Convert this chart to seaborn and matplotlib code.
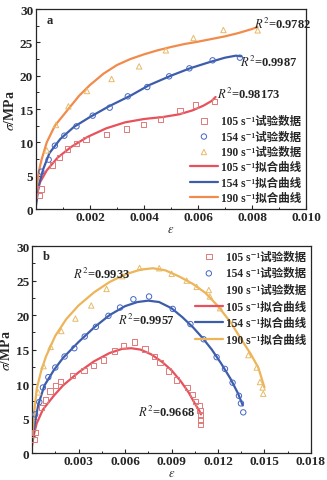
import matplotlib
matplotlib.use("Agg")
import matplotlib.pyplot as plt
import seaborn as sns
import pandas as pd
import numpy as np
from matplotlib.ticker import MultipleLocator, FixedLocator

# ---------------- experimental data (shared by both panels) ----------------
eps_105 = [0.00012, 0.00019, 0.00062, 0.00086, 0.00117, 0.00151, 0.00185, 0.00262, 0.00336,
           0.00398, 0.00462, 0.00533, 0.00591, 0.00662, 0.00729, 0.00789, 0.00826, 0.0088,
           0.00933, 0.01004, 0.01034, 0.01056, 0.01077, 0.01085, 0.01087, 0.01087, 0.01087]
sig_105 = [2.0, 3.0, 6.6, 7.7, 9.0, 9.8, 10.4, 11.2, 12.0, 12.7, 13.5, 14.8, 15.6, 16.1,
           15.1, 14.0, 13.1, 11.9, 10.6, 9.5, 8.45, 7.5, 6.85, 6.2, 5.5, 4.8, 4.1]
eps_154 = [0.0002, 0.00047, 0.0007, 0.00105, 0.0015, 0.0021, 0.00273, 0.0034, 0.00412, 0.00493,
           0.00568, 0.00654, 0.00755, 0.00908, 0.01022, 0.01107, 0.01191, 0.01245, 0.01294,
           0.01335, 0.01348, 0.01363]
sig_154 = [5.6, 7.4, 9.5, 11.0, 12.4, 14.0, 15.2, 16.9, 18.3, 19.9, 21.1, 22.3, 22.7, 20.9,
           18.7, 16.5, 13.9, 12.2, 10.2, 8.3, 7.2, 5.9]
eps_190 = [0.0004, 0.00074, 0.0012, 0.00189, 0.0028, 0.00382, 0.00481, 0.00583, 0.00694,
           0.00821, 0.00901, 0.00998, 0.01062, 0.01148, 0.01213, 0.01396, 0.0145, 0.01471,
           0.01488, 0.01492]
sig_190 = [8.8, 12.6, 15.4, 17.7, 19.5, 21.4, 23.8, 25.65, 26.85, 26.8, 26.0, 25.0, 24.1,
           22.7, 21.0, 14.2, 12.4, 10.3, 9.5, 8.6]
# number of points (pre-peak) shown in panel a
n_a_105, n_a_154, n_a_190 = 14, 13, 10

# ---------------- fitted curves, panel a ----------------
fa_eps_105 = [0, 0.00005, 0.00015, 0.0004, 0.0008, 0.0013, 0.0019, 0.0026, 0.0033, 0.004,
              0.0047, 0.0053, 0.0058, 0.0062, 0.0065, 0.00665]
fa_sig_105 = [1.0, 2.5, 4.0, 5.8, 7.7, 9.3, 10.8, 12.1, 13.0, 13.5, 13.8, 14.2, 14.8, 15.5, 16.2, 16.8]
fa_eps_154 = [0, 0.0001, 0.00027, 0.0005, 0.0009, 0.0014, 0.002, 0.0027, 0.0035, 0.0042,
              0.005, 0.0057, 0.0064, 0.007, 0.0074, 0.0076]
fa_sig_154 = [0.5, 3.5, 6.0, 8.4, 10.5, 12.3, 13.8, 15.4, 17.0, 18.6, 20.0, 21.1, 22.0, 22.7, 23.0, 22.9]
fa_eps_190 = [0, 0.0001, 0.0002, 0.0004, 0.0007, 0.001, 0.0013, 0.0016, 0.002, 0.0025, 0.003,
              0.0035, 0.004, 0.0045, 0.005, 0.0055, 0.006, 0.0065, 0.007, 0.0075, 0.008, 0.0082]
fa_sig_190 = [2.3, 5.5, 7.3, 10.0, 12.5, 14.0, 15.5, 17.0, 18.6, 20.3, 21.6, 22.5, 23.2, 23.8,
              24.3, 24.75, 25.1, 25.5, 25.9, 26.4, 27.0, 27.3]

# ---------------- fitted curves, panel b ----------------
fb_eps_105 = [0, 0.0001, 0.0003, 0.0007, 0.0014, 0.002, 0.003, 0.004, 0.005, 0.0058, 0.0064,
              0.007, 0.0077, 0.0084, 0.009, 0.0096, 0.0101, 0.0105, 0.0108, 0.0109]
fb_sig_105 = [1.0, 2.5, 4.3, 6.3, 8.3, 9.8, 11.7, 13.3, 14.5, 15.1, 15.2, 15.0, 14.3, 13.2,
              12.0, 10.4, 8.8, 7.2, 6.1, 5.6]
fb_eps_154 = [0, 0.0001, 0.0002, 0.0004, 0.0008, 0.0014, 0.002, 0.003, 0.004, 0.005, 0.006,
              0.0068, 0.0075, 0.0082, 0.009, 0.0097, 0.0104, 0.011, 0.0116, 0.0122, 0.0128,
              0.0133, 0.0136]
fb_sig_154 = [1.5, 3.2, 4.5, 7.0, 9.8, 12.0, 13.8, 16.1, 18.2, 20.0, 21.3, 21.9, 22.1, 21.9,
              21.0, 19.7, 18.2, 16.7, 15.0, 13.0, 10.8, 8.6, 6.9]
fb_eps_190 = [0, 0.0001, 0.0003, 0.0006, 0.0009, 0.0015, 0.0022, 0.003, 0.004, 0.005, 0.006,
              0.007, 0.0078, 0.0086, 0.0095, 0.0104, 0.0112, 0.012, 0.0128, 0.0135, 0.0141,
              0.0146, 0.015]
fb_sig_190 = [1.5, 5.0, 9.3, 12.0, 14.0, 17.0, 19.4, 21.4, 23.3, 24.8, 25.9, 26.6, 26.8, 26.5,
              25.6, 24.5, 23.2, 21.3, 19.0, 16.5, 14.4, 12.4, 9.5]

rates = ["105", "154", "190"]
r2_a = ["0.98173", "0.9987", "0.9782"]
r2_b = ["0.9668", "0.9957", "0.9933"]
yticks = [0, 5, 10, 15, 20, 25, 30]
xticks_a = [0.002, 0.004, 0.006, 0.008, 0.010]
xticks_b = [0.003, 0.006, 0.009, 0.012, 0.015, 0.018]

# ---------------- style ----------------
sns.set_style("ticks")
plt.rcParams["font.family"] = ["Liberation Serif", "DejaVu Serif", "Noto Sans CJK SC"]
plt.rcParams["mathtext.fontset"] = "stix"
plt.rcParams["axes.linewidth"] = 0.9

c_red_line, c_red_mk = "#E8515B", "#E07A7A"
c_blue_line, c_blue_mk = "#3D5DAA", "#4466C2"
c_or_line_a, c_gold_line_b, c_tri = "#F28A4C", "#EDB458", "#E8BA68"

fig = plt.figure(figsize=(3.27, 4.81), dpi=100)
ax1 = fig.add_axes([0.110, 0.5634, 0.826, 0.4158])
ax2 = fig.add_axes([0.098, 0.0561, 0.853, 0.4300])

lab_data = "{} s⁻¹试验数据"
lab_fit = "{} s⁻¹拟合曲线"


def draw(ax, exp, fits, line_colors):
    mk_colors = [c_red_mk, c_blue_mk, c_tri]
    markers = ["s", "o", "^"]
    for (e, s), rate, col, m in zip(exp, rates, mk_colors, markers):
        df = pd.DataFrame({"eps": e, "sig": s})
        sns.scatterplot(data=df, x="eps", y="sig", ax=ax, marker=m, s=15,
                        facecolor="none", edgecolor=col, linewidth=0.7,
                        label=lab_data.format(rate), zorder=3)
    for (e, s), rate, col in zip(fits, rates, line_colors):
        df = pd.DataFrame({"eps": e, "sig": s})
        sns.lineplot(data=df, x="eps", y="sig", ax=ax, sort=False, color=col,
                     linewidth=1.6, label=lab_fit.format(rate), zorder=2)


draw(ax1,
     [(eps_105[:n_a_105], sig_105[:n_a_105]), (eps_154[:n_a_154], sig_154[:n_a_154]),
      (eps_190[:n_a_190], sig_190[:n_a_190])],
     [(fa_eps_105, fa_sig_105), (fa_eps_154, fa_sig_154), (fa_eps_190, fa_sig_190)],
     [c_red_line, c_blue_line, c_or_line_a])
draw(ax2,
     [(eps_105, sig_105), (eps_154, sig_154), (eps_190, sig_190)],
     [(fb_eps_105, fb_sig_105), (fb_eps_154, fb_sig_154), (fb_eps_190, fb_sig_190)],
     [c_red_line, c_blue_line, c_gold_line_b])

tick_font = dict(family=["Liberation Serif", "DejaVu Serif"], weight="bold", size=9.5)

for ax, xmax, xt, minor in [(ax1, 0.010, xticks_a, 0.001), (ax2, 0.018, xticks_b, 0.0015)]:
    ax.set_xlim(0, xmax)
    ax.set_ylim(0, 30)
    ax.xaxis.set_major_locator(FixedLocator(xt))
    ax.xaxis.set_minor_locator(MultipleLocator(minor))
    ax.yaxis.set_major_locator(FixedLocator(yticks))
    ax.yaxis.set_minor_locator(MultipleLocator(2.5))
    ax.set_xticklabels([f"{v:.3f}" for v in xt], **tick_font)
    ax.set_yticklabels([str(v) for v in yticks], **tick_font)
    ax.tick_params(direction="in", which="major", length=3, width=0.8, pad=2)
    ax.tick_params(axis="x", which="major", pad=1.5)
    ax.tick_params(direction="in", which="minor", length=1.8, width=0.7)
    for sp in ax.spines.values():
        sp.set_visible(True)
        sp.set_linewidth(0.9)
    ax.set_xlabel(r"$\varepsilon$", fontsize=9, labelpad=0)
    ax.set_ylabel(r"$\sigma$/MPa", fontsize=10, labelpad=2,
                  fontweight="bold")

ax1.text(0.0004, 28.4, "a", fontsize=9, fontweight="bold", ha="left", va="center")
ax2.text(0.0007, 28.6, "b", fontsize=9, fontweight="bold", ha="left", va="center")

rfont = dict(fontsize=9, fontweight="bold", ha="left", va="center")
ax1.text(0.00808, 27.9, r"$R^2$=" + r2_a[2], **rfont)
ax1.text(0.00757, 22.2, r"$R^2$=" + r2_a[1], **rfont)
ax1.text(0.0067, 17.4, r"$R^2$=" + r2_a[0], **rfont)
ax2.text(0.00265, 26.1, r"$R^2$=" + r2_b[2], **rfont)
ax2.text(0.00555, 19.4, r"$R^2$=" + r2_b[1], **rfont)
ax2.text(0.00685, 6.0, r"$R^2$=" + r2_b[0], **rfont)

leg_font = dict(family=["Liberation Serif", "DejaVu Serif", "Noto Sans CJK SC"],
                weight="bold", size=8.3)
for ax, loc, anchor, sp in [(ax1, "lower right", (1.0, 0.0), 0.3),
                            (ax2, "upper right", (1.0, 1.0), 0.4)]:
    h, l = ax.get_legend_handles_labels()
    ax.legend(h, l, loc=loc, bbox_to_anchor=anchor, frameon=False, prop=leg_font,
              handlelength=2.4, handletextpad=0.3, labelspacing=sp,
              borderaxespad=0.2, borderpad=0.2)

fig.savefig("out.png", dpi=100)
